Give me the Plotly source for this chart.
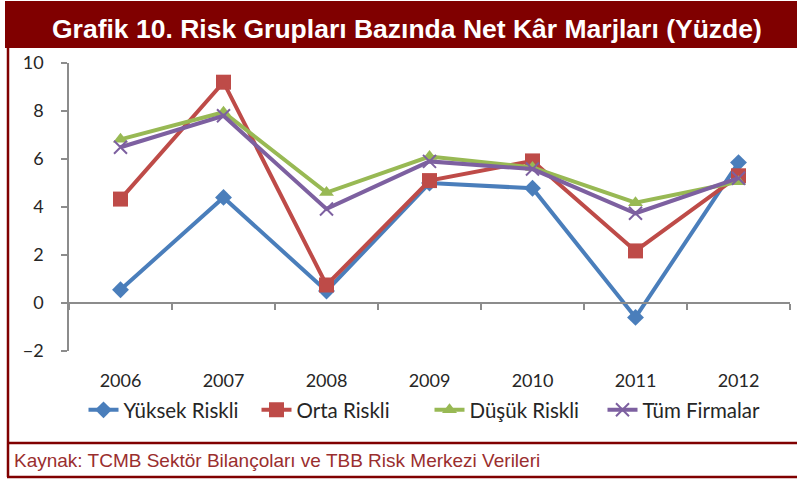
import plotly.graph_objects as go

years = ["2006", "2007", "2008", "2009", "2010", "2011", "2012"]
yuksek = [0.55, 4.4, 0.5, 5.0, 4.78, -0.6, 5.85]
orta = [4.33, 9.2, 0.75, 5.1, 5.92, 2.17, 5.3]
dusuk = [6.82, 7.95, 4.6, 6.1, 5.65, 4.18, 5.05]
tum = [6.49, 7.8, 3.92, 5.9, 5.58, 3.74, 5.2]
y_ticks = [-2, 0, 2, 4, 6, 8, 10]

names = ["Yüksek Riskli", "Orta Riskli", "Düşük Riskli", "Tüm Firmalar"]
colors = ["#4A7EBB", "#BE4B48", "#98B954", "#7D60A0"]
symbols = ["diamond", "square", "triangle-up", "x-thin"]
sizes = [13, 15, 13, 13]

W, H = 797, 480
L, R, T, B = 69, 7, 63, 129
PW, PH = W - L - R, H - T - B


def px(x):
    return (x - L) / PW


def py(y):
    return (H - B - y) / PH


fig = go.Figure()
for vals, name, col, sym, sz in zip([yuksek, orta, dusuk, tum], names, colors, symbols, sizes):
    fig.add_trace(go.Scatter(
        x=years, y=vals, name=name, mode="lines+markers",
        line=dict(color=col, width=4),
        marker=dict(symbol=sym, size=sz, color=col,
                    line=dict(color=col, width=2 if sym == "x-thin" else 0)),
    ))

# helper trace on secondary x-axis (zero-crossing axis line)
fig.add_trace(go.Scatter(x=years, y=yuksek, xaxis="x2", mode="lines",
                         opacity=0, showlegend=False, hoverinfo="skip"))

fig.update_layout(
    width=W, height=H,
    margin=dict(l=L, r=R, t=T, b=B, pad=0),
    paper_bgcolor="white", plot_bgcolor="white",
    font=dict(family="Lato", size=18, color="#262626"),
    showlegend=True,
    legend=dict(orientation="h", x=0.5, xanchor="center", y=py(410), yanchor="middle",
                font=dict(family="Lato", size=20.5, color="#262626"),
                entrywidth=128, entrywidthmode="pixels",
                tracegroupgap=0, bgcolor="rgba(0,0,0,0)"),
    xaxis=dict(type="category", categoryorder="array", categoryarray=years,
               range=[-0.5, 6.5], showline=False, showgrid=False, zeroline=False,
               ticks="", ticklabelstandoff=17, tickfont=dict(size=18)),
    xaxis2=dict(type="category", categoryorder="array", categoryarray=years,
                range=[-0.5, 6.5], overlaying="x", anchor="free", position=py(303),
                showline=True, linecolor="#8C8C8C", linewidth=1.5,
                ticks="outside", ticklen=6, tickcolor="#8C8C8C", tickwidth=1.5,
                tickson="boundaries", showticklabels=False, showgrid=False, zeroline=False),
    yaxis=dict(range=[-2, 10], tickvals=y_ticks, showgrid=False, zeroline=False,
               showline=True, linecolor="#8C8C8C", linewidth=1.5,
               ticks="outside", ticklen=6, tickcolor="#8C8C8C", tickwidth=1.5,
               ticklabelstandoff=14, tickfont=dict(size=18)),
)

dark_red = "#800000"
shapes = [
    dict(type="rect", xref="paper", yref="paper", x0=px(5), x1=px(800), y0=py(48), y1=py(1),
         fillcolor=dark_red, line=dict(width=0), layer="below"),
    dict(type="line", xref="paper", yref="paper", x0=px(8), x1=px(8), y0=py(48), y1=py(477),
         line=dict(color=dark_red, width=2.5)),
    dict(type="line", xref="paper", yref="paper", x0=px(7), x1=px(800), y0=py(443), y1=py(443),
         line=dict(color=dark_red, width=2.5)),
    dict(type="line", xref="paper", yref="paper", x0=px(7), x1=px(800), y0=py(477), y1=py(477),
         line=dict(color=dark_red, width=2.5)),
]
fig.update_layout(shapes=shapes)

fig.add_annotation(text="Grafik 10. Risk Grupları Bazında Net Kâr Marjları (Yüzde)",
                   xref="paper", yref="paper", x=px(407), y=py(29),
                   xanchor="center", yanchor="middle", showarrow=False,
                   font=dict(family="Liberation Sans", size=26.5, color="white", weight="bold"))
fig.add_annotation(text="Kaynak: TCMB Sektör Bilançoları ve TBB Risk Merkezi Verileri",
                   xref="paper", yref="paper", x=px(12), y=py(460),
                   xanchor="left", yanchor="middle", showarrow=False,
                   font=dict(family="Liberation Sans", size=19, color="#9A2E2E"))

fig.write_html("out.html", config={"displayModeBar": False},
               post_script="document.body.style.margin='0';document.body.style.overflow='hidden';")
